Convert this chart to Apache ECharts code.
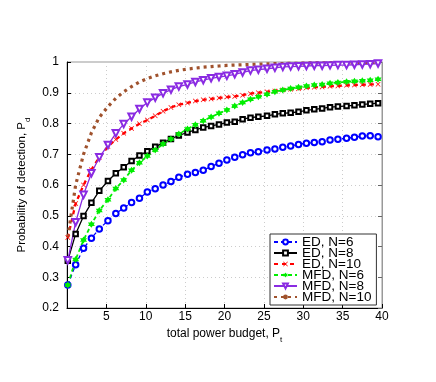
<!DOCTYPE html>
<html>
<head>
<meta charset="utf-8">
<script src="https://cdn.jsdelivr.net/npm/echarts@6/dist/echarts.min.js"></script>
<style>
  html, body { margin: 0; padding: 0; background: #fff; }
  #main { width: 436px; height: 382px; }
</style>
</head>
<body>
<div id="main"></div>
<script>
// x 轴：总功率预算
const powerBudget = [0.1, 1.1, 2.1, 3.1, 4.1, 5.2, 6.2, 7.2, 8.2, 9.2, 10.2, 11.2, 12.2, 13.2, 14.2, 15.3, 16.3, 17.3, 18.3, 19.3,
  20.3, 21.3, 22.3, 23.3, 24.3, 25.4, 26.4, 27.4, 28.4, 29.4, 30.4, 31.4, 32.4, 33.4, 34.4, 35.5, 36.5, 37.5, 38.5, 39.5];

// 各曲线检测概率
const edN6 = [0.275, 0.341, 0.394, 0.427, 0.457, 0.484, 0.507, 0.525, 0.543, 0.557, 0.577, 0.588, 0.600, 0.611, 0.625, 0.635, 0.641, 0.648, 0.660, 0.671,
  0.681, 0.690, 0.698, 0.705, 0.708, 0.714, 0.717, 0.723, 0.727, 0.732, 0.736, 0.738, 0.741, 0.746, 0.749, 0.752, 0.755, 0.759, 0.760, 0.757];
const edN8 = [0.354, 0.441, 0.499, 0.542, 0.581, 0.613, 0.638, 0.658, 0.678, 0.696, 0.710, 0.724, 0.737, 0.750, 0.761, 0.771, 0.779, 0.787, 0.792, 0.797,
  0.803, 0.806, 0.814, 0.819, 0.822, 0.825, 0.830, 0.833, 0.835, 0.838, 0.843, 0.846, 0.849, 0.853, 0.855, 0.857, 0.859, 0.862, 0.864, 0.866];
const edN10 = [0.429, 0.540, 0.600, 0.650, 0.690, 0.725, 0.748, 0.768, 0.784, 0.799, 0.811, 0.825, 0.840, 0.852, 0.861, 0.867, 0.873, 0.877, 0.880, 0.883,
  0.886, 0.888, 0.892, 0.897, 0.900, 0.903, 0.906, 0.909, 0.911, 0.913, 0.916, 0.918, 0.919, 0.921, 0.922, 0.924, 0.925, 0.926, 0.927, 0.928];
const mfdN6 = [0.275, 0.358, 0.421, 0.472, 0.517, 0.552, 0.589, 0.616, 0.648, 0.672, 0.694, 0.714, 0.733, 0.750, 0.766, 0.782, 0.796, 0.809, 0.821, 0.833,
  0.844, 0.857, 0.868, 0.879, 0.887, 0.895, 0.903, 0.909, 0.914, 0.918, 0.922, 0.925, 0.927, 0.931, 0.933, 0.936, 0.937, 0.939, 0.941, 0.944];
const mfdN8 = [0.355, 0.479, 0.568, 0.638, 0.690, 0.730, 0.768, 0.798, 0.822, 0.847, 0.868, 0.884, 0.898, 0.910, 0.920, 0.927, 0.935, 0.941, 0.947, 0.951,
  0.955, 0.960, 0.966, 0.972, 0.975, 0.978, 0.981, 0.984, 0.985, 0.986, 0.987, 0.988, 0.988, 0.989, 0.990, 0.990, 0.991, 0.992, 0.993, 0.995];
const mfdN10 = [0.430, 0.600, 0.700, 0.770, 0.820, 0.855, 0.882, 0.903, 0.920, 0.935, 0.946, 0.955, 0.962, 0.968, 0.973, 0.977, 0.980, 0.983, 0.985, 0.987,
  0.989, 0.990, 0.991, 0.992, 0.993, 0.994, 0.995, 0.995, 0.996, 0.996, 0.997, 0.997, 0.997, 0.998, 0.998, 0.998, 0.998, 0.999, 0.999, 0.999];

const seriesNames = ['ED, N=6', 'ED, N=8', 'ED, N=10', 'MFD, N=6', 'MFD, N=8', 'MFD, N=10'];

// 标记形状
const crossPath = 'path://M1 0L5 4L9 0L10 1L6 5L10 9L9 10L5 6L1 10L0 9L4 5L0 1Z';
const starPath = 'path://M10 0L12.89 5L18.66 5L15.77 10L18.66 15L12.89 15L10 20L7.11 15L1.34 15L4.23 10L1.34 5L7.11 5Z';

const font = "'Liberation Sans', Arial, sans-serif";

const pairs = ys => ys.map((v, i) => [powerBudget[i], v]);

let chart = echarts.init(document.getElementById('main'));

chart.setOption({
  animation: false,
  backgroundColor: '#fff',
  grid: {
    left: 67,
    right: 54,
    top: 62,
    bottom: 74,
    show: true,
    borderColor: '#999',
    borderWidth: 1
  },
  legend: {
    data: seriesNames,
    orient: 'vertical',
    left: 270,
    top: 234,
    padding: [1, 5, 1, 3],
    itemGap: -3,
    itemWidth: 23,
    itemHeight: 6,
    borderColor: '#333',
    borderWidth: 1,
    backgroundColor: '#fff',
    textStyle: { fontFamily: font, fontSize: 13.5, color: '#000' }
  },
  xAxis: {
    type: 'value',
    min: 0,
    max: 40,
    interval: 5,
    name: '{n|total power budget, P}{s|t}',
    nameLocation: 'middle',
    nameGap: 16,
    nameTextStyle: {
      rich: {
        n: { fontFamily: font, fontSize: 12, lineHeight: 14, color: '#000', verticalAlign: 'middle' },
        s: { fontFamily: font, fontSize: 8, lineHeight: 8, color: '#000', verticalAlign: 'bottom', padding: [0, 0, -3, 0] }
      }
    },
    axisLine: { lineStyle: { color: '#000' } },
    axisTick: { inside: true, length: 4, lineStyle: { color: '#000' } },
    axisLabel: {
      margin: 3,
      fontFamily: font,
      fontSize: 12,
      color: '#000',
      formatter: v => (v === 0 ? '' : v)
    },
    splitLine: { show: true, lineStyle: { color: '#ccc', type: [1, 3] } }
  },
  yAxis: [
    {
      type: 'value',
      min: 0.2,
      max: 1,
      interval: 0.1,
      name: '{n|Probability of detection, P}{s|d}',
      nameLocation: 'middle',
      nameGap: 38,
      nameTextStyle: {
        rich: {
          n: { fontFamily: "'Liberation Sans Narrow', " + font, fontSize: 11.5, lineHeight: 14, color: '#000', verticalAlign: 'middle' },
          s: { fontFamily: font, fontSize: 8, lineHeight: 8, color: '#000', verticalAlign: 'bottom', padding: [0, 0, -3, 0] }
        }
      },
      axisLine: { lineStyle: { color: '#000' } },
      axisTick: { inside: true, length: 4, lineStyle: { color: '#000' } },
      axisLabel: {
        margin: 8,
        fontFamily: font,
        fontSize: 12,
        color: '#000',
        formatter: v => String(Math.round(v * 10) / 10)
      },
      splitLine: { show: true, lineStyle: { color: '#ccc', type: [1, 3] } }
    },
    {
      // 右侧刻度
      type: 'value',
      position: 'right',
      min: 0.2,
      max: 1,
      interval: 0.1,
      axisLine: { show: true, lineStyle: { color: '#999' } },
      axisTick: { show: true, inside: true, length: 4, lineStyle: { color: '#666' } },
      axisLabel: { show: false },
      splitLine: { show: false }
    }
  ],
  series: [
    {
      name: seriesNames[0],
      type: 'line',
      data: pairs(edN6),
      showAllSymbol: true,
      symbol: 'emptyCircle',
      symbolSize: 5.5,
      color: '#0000ff',
      lineStyle: { width: 1.3, type: [4, 3] },
      itemStyle: { borderWidth: 1.3 }
    },
    {
      name: seriesNames[1],
      type: 'line',
      data: pairs(edN8),
      showAllSymbol: true,
      symbol: 'emptyRect',
      symbolSize: 4.5,
      color: '#000',
      lineStyle: { width: 1.3 },
      itemStyle: { borderWidth: 1.1 }
    },
    {
      name: seriesNames[2],
      type: 'line',
      data: pairs(edN10),
      showAllSymbol: true,
      symbol: crossPath,
      symbolSize: 5,
      color: '#ff0000',
      lineStyle: { width: 2.3, type: [4, 4] }
    },
    {
      name: seriesNames[3],
      type: 'line',
      data: pairs(mfdN6),
      showAllSymbol: true,
      symbol: starPath,
      symbolSize: 7,
      color: '#00ee00',
      lineStyle: { width: 1.8, type: [4, 3] }
    },
    {
      name: seriesNames[4],
      type: 'line',
      data: pairs(mfdN8),
      showAllSymbol: true,
      symbol: 'emptyTriangle',
      symbolRotate: 180,
      symbolSize: 6.5,
      color: '#8a2be2',
      lineStyle: { width: 1.3 },
      itemStyle: { borderWidth: 1.3 }
    },
    {
      name: seriesNames[5],
      type: 'line',
      data: pairs(mfdN10),
      showSymbol: false,
      symbol: 'none',
      color: '#a0522d',
      lineStyle: { width: 3.2, type: [3, 4] }
    }
  ]
});
</script>
</body>
</html>
